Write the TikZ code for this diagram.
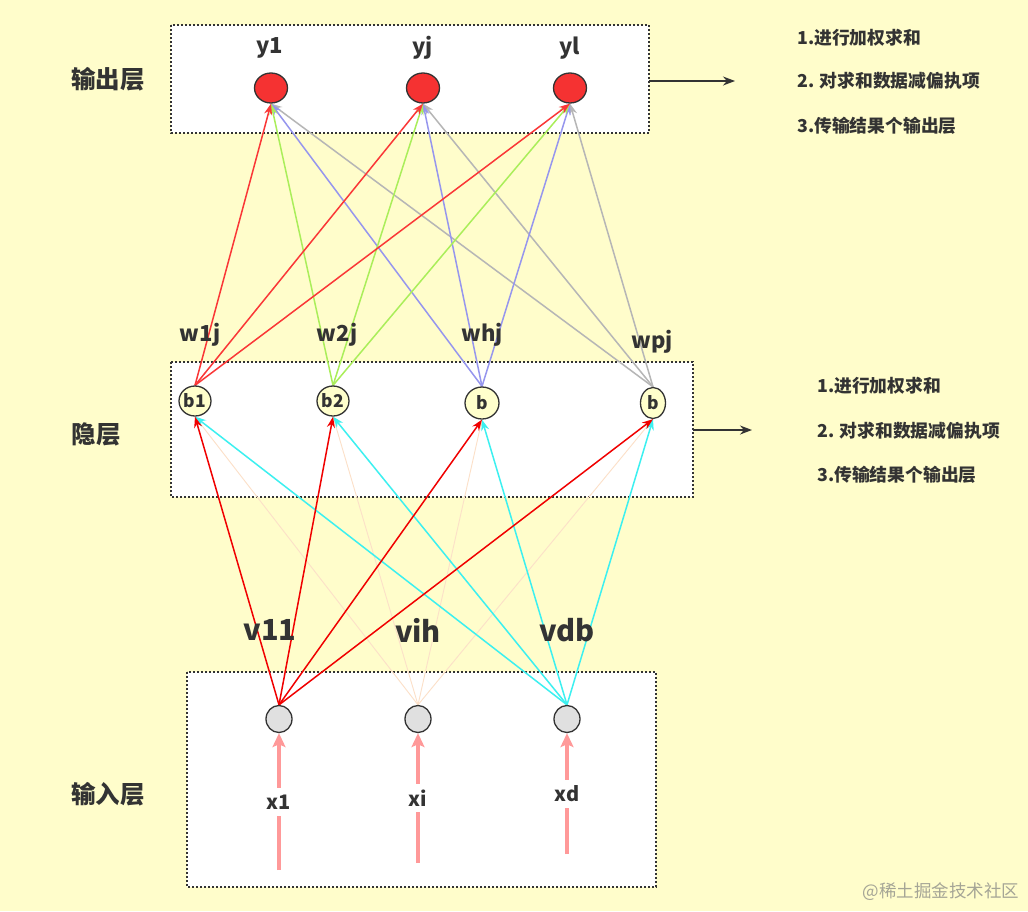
\documentclass[tikz,border=0pt]{standalone}
\usepackage{fontspec}
\setmainfont{Noto Sans CJK SC}
\usetikzlibrary{arrows.meta,shapes.geometric}
\definecolor{bgc}{RGB}{255,253,203}
\definecolor{txt}{RGB}{51,51,51}
\definecolor{cR}{RGB}{250,55,55}
\definecolor{cRR}{RGB}{240,0,0}
\definecolor{cG}{RGB}{170,238,90}
\definecolor{cB}{RGB}{150,150,238}
\definecolor{cGr}{RGB}{182,182,182}
\definecolor{cC}{RGB}{60,240,240}
\definecolor{cP}{RGB}{252,224,200}
\definecolor{cPink}{RGB}{255,153,153}
\definecolor{nRed}{RGB}{245,50,50}
\definecolor{nYel}{RGB}{255,255,204}
\definecolor{nGry}{RGB}{224,224,224}
\definecolor{wm}{RGB}{165,165,150}
\pgfdeclarelayer{bglayer}
\pgfdeclarelayer{edgelayer}
\pgfsetlayers{bglayer,edgelayer,main}
\tikzset{
  layerbox/.style={draw=txt,fill=white,line width=1.4pt,dash pattern=on 2pt off 2pt},
  neuron/.style={ellipse,draw=txt,line width=1.3pt,inner sep=0pt,text=txt,font=\bfseries\fontsize{17.5}{17.5}\selectfont},
  lbl/.style={text=txt,font=\bfseries\fontsize{22}{22}\selectfont,inner sep=0pt},
  biglbl/.style={text=txt,font=\bfseries\fontsize{29}{29}\selectfont,inner sep=0pt},
  layerlbl/.style={text=txt,font=\bfseries\fontsize{24.5}{24.5}\selectfont,inner sep=0pt},
  note/.style={text=txt,font=\bfseries\fontsize{17.8}{17.8}\selectfont,inner sep=0pt,anchor=west},
  inlbl/.style={text=txt,font=\bfseries\fontsize{20}{20}\selectfont,fill=white,inner sep=0pt,minimum height=28pt,minimum width=26pt},
  edge/.style={line width=1.5pt,-{Stealth[length=11pt,width=8pt]}},
  thinedge/.style={line width=0.9pt,-{Stealth[length=8pt,width=6pt]}},
  pinkarrow/.style={draw=cPink,line width=4pt,-{Stealth[length=14pt,width=13pt,inset=3pt]}},
  darkarrow/.style={draw=txt,line width=1.4pt,-{Stealth[length=12pt,width=9pt]}}
}
\begin{document}
\begin{tikzpicture}[x=1pt,y=-1pt]
\useasboundingbox (0,0) rectangle (1028,911);
\begin{pgfonlayer}{bglayer}
  \fill[bgc] (0,0) rectangle (1028,911);
  \draw[layerbox] (171,25) rectangle (649,133);
  \draw[layerbox] (171,362) rectangle (693,497);
  \draw[layerbox] (187,672) rectangle (656,887);
\end{pgfonlayer}

% output layer
\node[neuron,fill=nRed,minimum width=33pt,minimum height=30pt] (y1) at (271,88) {};
\node[neuron,fill=nRed,minimum width=33pt,minimum height=30pt] (yj) at (423,88) {};
\node[neuron,fill=nRed,minimum width=33pt,minimum height=30pt] (yl) at (570,88) {};
\node[lbl] (ly1) at (270,48) {y1};
\node[lbl] (lyj) at (423,48) {yj};
\node[lbl] (lyl) at (570,48) {yl};

% hidden layer
\node[neuron,fill=nYel,minimum width=32pt,minimum height=30pt] (b1) at (195,401) {b1};
\node[neuron,fill=nYel,minimum width=32pt,minimum height=30pt] (b2) at (333,401) {b2};
\node[neuron,fill=nYel,minimum width=34pt,minimum height=32pt] (b3) at (482,403) {b};
\node[neuron,fill=nYel,minimum width=25pt,minimum height=31pt] (b4) at (653,403) {b};
\node[lbl] (w1) at (200,335) {w1j};
\node[lbl] (w2) at (337,335) {w2j};
\node[lbl] (wh) at (482,335) {whj};
\node[lbl] (wp) at (652,342) {wpj};

% input layer
\node[neuron,fill=nGry,minimum width=26pt,minimum height=27pt] (x1) at (279,719) {};
\node[neuron,fill=nGry,minimum width=26pt,minimum height=27pt] (xi) at (418,719) {};
\node[neuron,fill=nGry,minimum width=26pt,minimum height=27pt] (xd) at (567,719) {};
\node[biglbl] (v11) at (270,630) {v11};
\node[biglbl] (vih) at (418,630) {vih};
\node[biglbl] (vdb) at (567,630) {vdb};

% input labels and feeds
\coordinate (x1b) at (279,870);
\coordinate (xib) at (418,863);
\coordinate (xdb) at (567,854);
\node[inlbl] (lx1) at (279,802) {x1};
\node[inlbl] (lxi) at (418,798) {xi};
\node[inlbl] (lxd) at (567,794) {xd};

% layer names
\node[layerlbl] (Lout) at (108,79) {输出层};
\node[layerlbl] (Lhid) at (96,434) {隐层};
\node[layerlbl] (Lin) at (108,794) {输入层};

% notes
\coordinate (n1) at (735,81);
\coordinate (n2) at (752,430);
\node[note] (t11) at (797,38) {1.进行加权求和};
\node[note] (t12) at (797,81) {2. 对求和数据减偏执项};
\node[note] (t13) at (797,126) {3.传输结果个输出层};
\node[note] (t21) at (817,386) {1.进行加权求和};
\node[note] (t22) at (817,431) {2. 对求和数据减偏执项};
\node[note] (t23) at (817,475) {3.传输结果个输出层};

\node[text=wm,font=\fontsize{17.5}{17.5}\selectfont,inner sep=0pt] (wmk) at (941,892) {@稀土掘金技术社区};

\begin{pgfonlayer}{edgelayer}
  \foreach \t in {y1,yj,yl} {
    \draw[edge,draw=cGr] (b4.north) -- (\t.south);
    \draw[edge,draw=cB] (b3.north) -- (\t.south);
    \draw[edge,draw=cG] (b2.north) -- (\t.south);
    \draw[edge,draw=cR] (b1.north) -- (\t.south);
  }
  \foreach \t in {b1,b2,b3,b4} {
    \draw[thinedge,draw=cP] (xi.north) -- (\t.south);
  }
  \foreach \t in {b1,b2,b3,b4} {
    \draw[edge,draw=cC] (xd.north) -- (\t.south);
    \draw[edge,draw=cRR] (x1.north) -- (\t.south);
  }
  \draw[pinkarrow] (x1b) -- (x1.south);
  \draw[pinkarrow] (xib) -- (xi.south);
  \draw[pinkarrow] (xdb) -- (xd.south);
  \draw[darkarrow] (649,81) -- (n1);
  \draw[darkarrow] (693,430) -- (n2);
\end{pgfonlayer}
\end{tikzpicture}
\end{document}
